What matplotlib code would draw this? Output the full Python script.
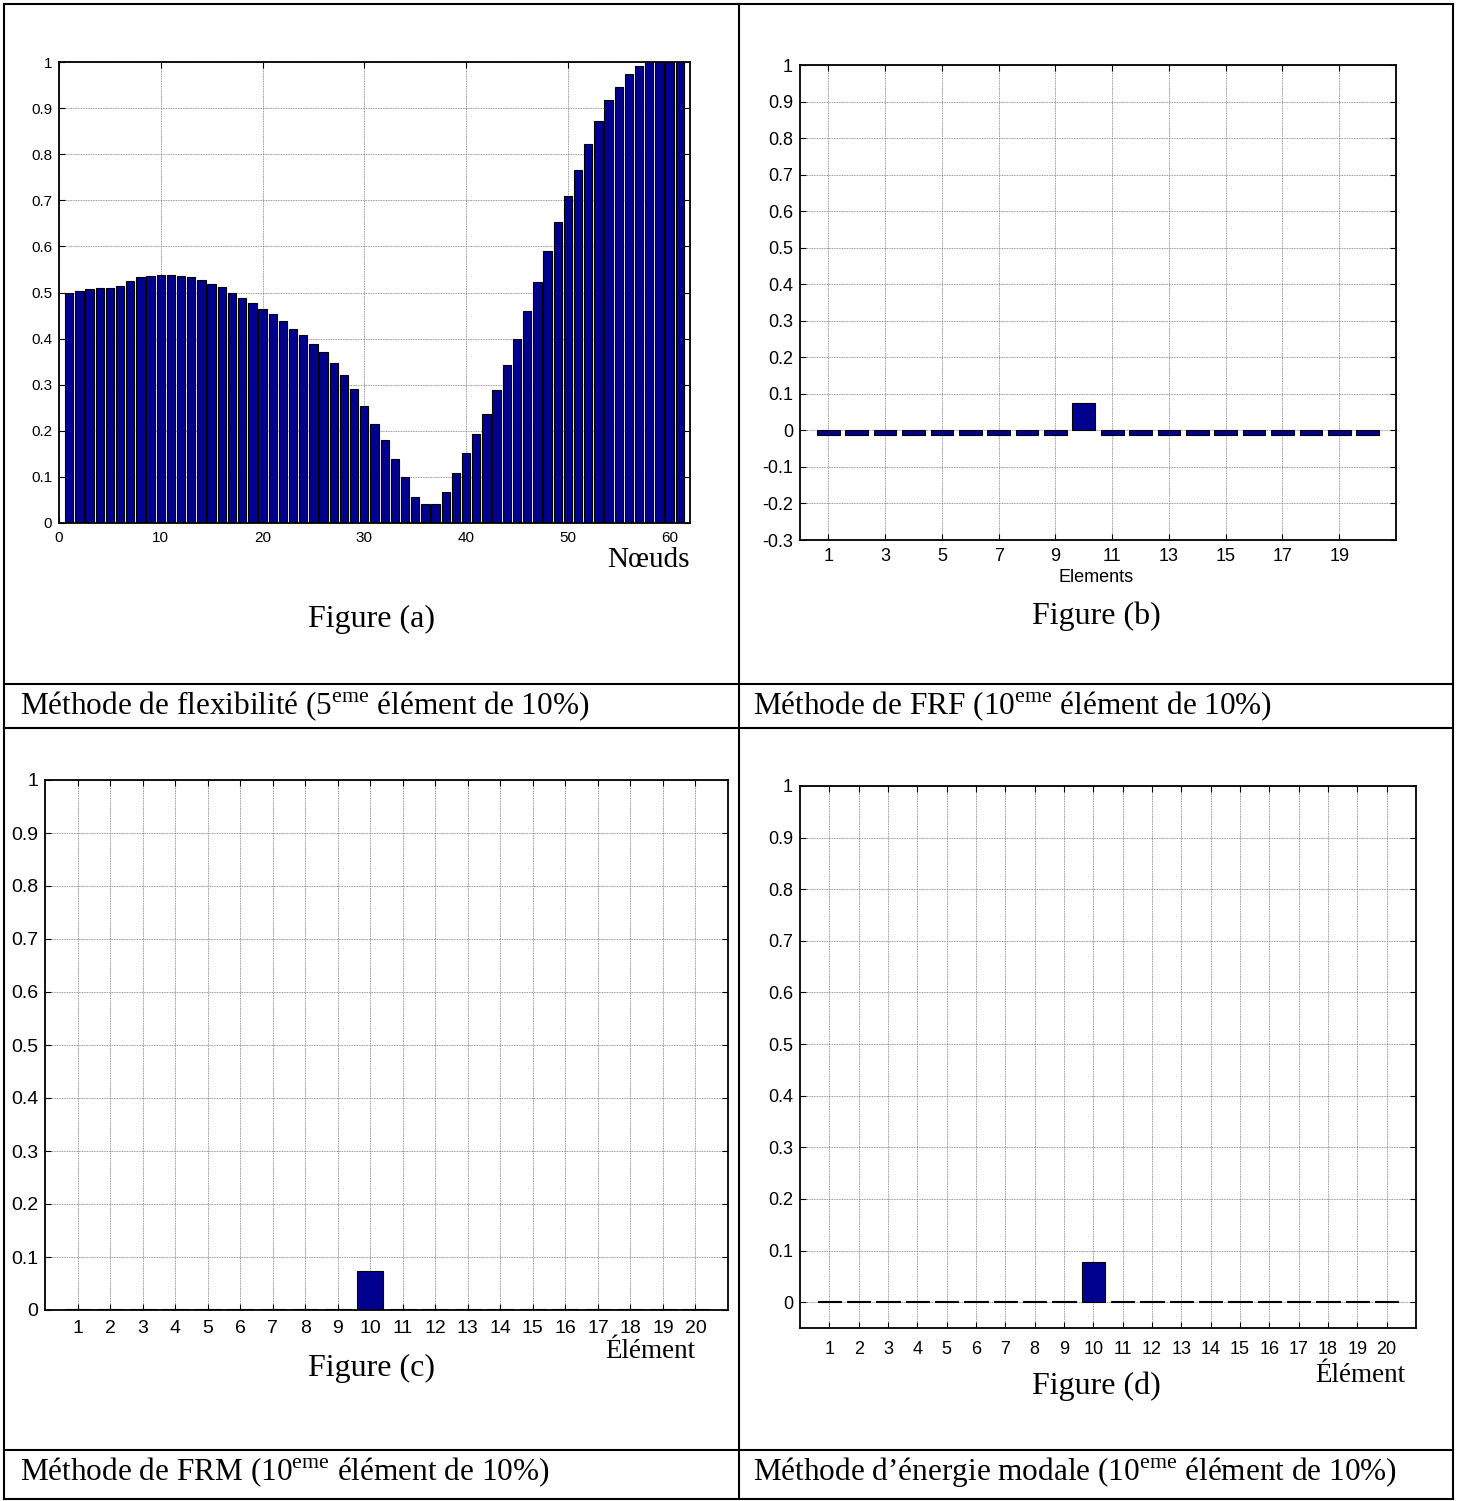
import numpy as np
import matplotlib.pyplot as plt
from matplotlib.lines import Line2D

plt.rcParams['axes.unicode_minus'] = False
plt.rcParams['mathtext.fontset'] = 'custom'
plt.rcParams['mathtext.rm'] = 'Liberation Serif'

# Data
noeuds = np.arange(1, 62)
flex_values = [0.500, 0.504, 0.507, 0.510, 0.510, 0.515, 0.525, 0.533, 0.536, 0.538,
               0.538, 0.536, 0.533, 0.528, 0.519, 0.512, 0.500, 0.488, 0.477, 0.465,
               0.453, 0.439, 0.421, 0.407, 0.389, 0.370, 0.347, 0.320, 0.290, 0.254,
               0.215, 0.181, 0.139, 0.100, 0.056, 0.041, 0.041, 0.068, 0.109, 0.151,
               0.192, 0.237, 0.288, 0.343, 0.400, 0.460, 0.522, 0.590, 0.652, 0.709,
               0.765, 0.822, 0.873, 0.917, 0.946, 0.973, 0.992, 0.999, 1.0, 1.0, 1.0]

elements = np.arange(1, 21)
frf_values = [-0.012] * 9 + [0.075] + [-0.012] * 10
frm_values = [0.002] * 9 + [0.073] + [0.002] * 10
energie_values = [0.0015] * 9 + [0.078] + [0.0015] * 10

W, H = 1460, 1501
fig = plt.figure(figsize=(W / 100, H / 100), dpi=100)
fig.patch.set_facecolor('white')

BAR = '#00008F'
SANS = 'Liberation Sans'
SERIF = 'Liberation Serif'


def add_ax(left, right, top, bottom):
    return fig.add_axes([left / W, 1 - bottom / H, (right - left) / W, (bottom - top) / H])


def style(ax, xticks, yticks, xlim, ylim, fs, xpad=5):
    ax.set_xlim(*xlim)
    ax.set_ylim(*ylim)
    ax.set_xticks(xticks)
    ax.set_xticklabels([str(t) for t in xticks], fontsize=fs, family=SANS)
    ax.set_yticks(yticks)
    ax.set_yticklabels([f"{t:g}" for t in np.round(yticks, 2)], fontsize=fs, family=SANS)
    ax.tick_params(direction='in', top=True, right=True, length=4, width=0.8)
    ax.tick_params(axis='y', pad=5)
    ax.tick_params(axis='x', pad=xpad)
    ax.grid(True, linestyle=(0, (1, 1)), color='0.45', linewidth=0.6)
    ax.set_axisbelow(True)
    for s in ax.spines.values():
        s.set_linewidth(1.3)


def ftext(x, y, s, **kw):
    fig.text(x / W, 1 - y / H, s, **kw)


# Figure (a)
ax = add_ax(59, 690, 62, 523)
ax.bar(noeuds, flex_values, width=0.82, color=BAR, edgecolor='black', linewidth=0.8)
style(ax, list(range(0, 61, 10)), np.arange(0, 1.01, 0.1), (0, 62), (0, 1), 11, xpad=6)
ftext(690, 560, 'Nœuds', family=SERIF, fontsize=21, ha='right', va='center')
ftext(371, 619, 'Figure (a)', family=SERIF, fontsize=23, ha='center', va='center')

# Figure (b)
ax = add_ax(800, 1396, 65, 540)
ax.bar(elements, frf_values, width=0.8, color=BAR, edgecolor='black', linewidth=0.8)
style(ax, list(range(1, 20, 2)), np.arange(-0.3, 1.01, 0.1), (0, 21), (-0.3, 1), 13, xpad=6)
ftext(1096, 578, 'Elements', family=SANS, fontsize=13, ha='center', va='center')
ftext(1096, 616, 'Figure (b)', family=SERIF, fontsize=23, ha='center', va='center')

# Figure (c)
ax = add_ax(45, 728, 780, 1310)
ax.bar(elements, frm_values, width=0.8, color=BAR, edgecolor='black', linewidth=0.8)
style(ax, list(range(1, 21)), np.arange(0, 1.01, 0.1), (0, 21), (0, 1), 14, xpad=7)
ftext(695, 1351, 'Élément', family=SERIF, fontsize=19.5, ha='right', va='center')
ftext(371, 1368, 'Figure (c)', family=SERIF, fontsize=23, ha='center', va='center')

# Figure (d)
ax = add_ax(800, 1416, 786, 1328)
ax.bar(elements, energie_values, width=0.8, color=BAR, edgecolor='black', linewidth=0.8)
style(ax, list(range(1, 21)), np.arange(0, 1.01, 0.1), (0, 21), (-0.05, 1), 13, xpad=9)
ftext(1405, 1375, 'Élément', family=SERIF, fontsize=19.5, ha='right', va='center')
ftext(1096, 1386, 'Figure (d)', family=SERIF, fontsize=23, ha='center', va='center')

# Captions
cap = dict(family=SERIF, fontsize=22.5, ha='left', va='center')
ftext(20, 706, r'Méthode de flexibilité (5$^{\mathrm{eme}}$ élément de 10%)', **cap)
ftext(753, 706, r'Méthode de FRF (10$^{\mathrm{eme}}$ élément de 10%)', **cap)
ftext(20, 1472, r'Méthode de FRM (10$^{\mathrm{eme}}$ élément de 10%)', **cap)
ftext(753, 1472, r'Méthode d’énergie modale (10$^{\mathrm{eme}}$ élément de 10%)', **cap)

# Table borders
def hline(y, x0=4, x1=1453):
    fig.add_artist(Line2D([x0 / W, x1 / W], [1 - y / H, 1 - y / H], color='black', lw=1.5))


def vline(x, y0=4, y1=1499):
    fig.add_artist(Line2D([x / W, x / W], [1 - y0 / H, 1 - y1 / H], color='black', lw=1.5))


for y in [4, 684, 728, 1450, 1499]:
    hline(y)
for x in [4, 739, 1453]:
    vline(x)

plt.savefig('out.png', dpi=100)
